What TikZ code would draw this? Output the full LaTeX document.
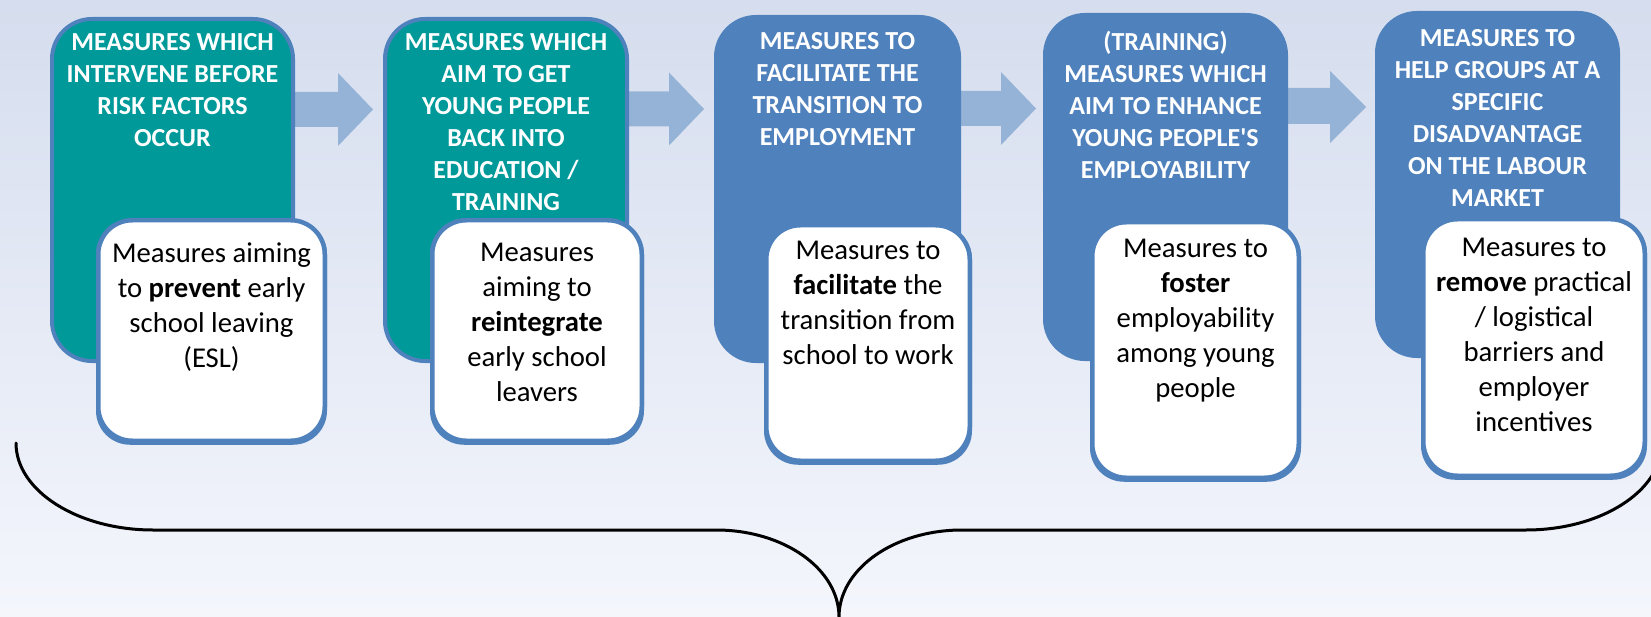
\documentclass[tikz,border=0pt]{standalone}
\usepackage{fontspec}
\setmainfont{Carlito}
\definecolor{bgtop}{RGB}{213,221,238}
\definecolor{bgbot}{RGB}{244,246,252}
\definecolor{tealfill}{RGB}{0,153,153}
\definecolor{bluefill}{RGB}{79,129,189}
\definecolor{arrowfill}{RGB}{149,179,215}
\tikzset{
  hbox/.style={draw=bluefill, line width=4pt, rounded corners=40pt, inner sep=0pt},
  wbox/.style={draw=bluefill, fill=white, line width=4.5pt, rounded corners=34pt, inner sep=0pt},
  htext/.style={anchor=north, align=center, text=white, inner sep=0pt,
    font=\fontsize{26}{32}\selectfont\bfseries, execute at begin node=\strut},
  wtext/.style={anchor=north, align=center, text=black, inner sep=0pt,
    font=\fontsize{28.7}{35}\selectfont, execute at begin node=\strut},
  blockarrow/.style={fill=arrowfill, draw=none},
  brace/.style={draw=black, line width=3pt, line cap=round}
}
\begin{document}
\begin{tikzpicture}[x=1pt,y=-1pt]
  \useasboundingbox (0,0) rectangle (1651,617);
  \shade[top color=bgtop, bottom color=bgbot] (0,0) rectangle (1651,617);

  % block arrows between the stages
  \fill[blockarrow] (285,92) -- (338,92) -- (338,73) -- (373,109.5) -- (338,146) -- (338,127) -- (285,127) -- cycle;
  \fill[blockarrow] (618,91.5) -- (669,91.5) -- (669,72.5) -- (704,109) -- (669,145.5) -- (669,126.5) -- (618,126.5) -- cycle;
  \fill[blockarrow] (950,91) -- (1001,91) -- (1001,72) -- (1036,108.5) -- (1001,145) -- (1001,126) -- (950,126) -- cycle;
  \fill[blockarrow] (1278,88) -- (1330,88) -- (1330,71) -- (1366,107) -- (1330,143) -- (1330,124) -- (1278,124) -- cycle;

  % stage boxes
  \node[hbox, fill=tealfill, minimum width=241pt, minimum height=342pt] (h1) at (172.5,190) {};
  \node[hbox, fill=tealfill, minimum width=242pt, minimum height=342pt] (h2) at (506,190) {};
  \node[hbox, fill=bluefill, minimum width=243pt, minimum height=344pt] (h3) at (837.5,189) {};
  \node[hbox, fill=bluefill, minimum width=241pt, minimum height=344pt] (h4) at (1165.5,187) {};
  \node[hbox, fill=bluefill, minimum width=241pt, minimum height=343pt] (h5) at (1497.5,184.5) {};

  % stage titles (north = first baseline minus 0.7 baselineskip)
  \node[htext] (t1) at (172.5,33.6) {MEASURES WHICH\\INTERVENE BEFORE\\RISK FACTORS\\OCCUR};
  \node[htext] (t2) at (506,33.6) {MEASURES WHICH\\AIM TO GET\\YOUNG PEOPLE\\BACK INTO\\EDUCATION /\\TRAINING};
  \node[htext] (t3) at (837.5,32.6) {MEASURES TO\\FACILITATE THE\\TRANSITION TO\\EMPLOYMENT};
  \node[htext] (t4) at (1165.5,31.1) {(TRAINING)\\MEASURES WHICH\\AIM TO ENHANCE\\YOUNG PEOPLE\textquotesingle S\\EMPLOYABILITY};
  \node[htext] (t5) at (1497.5,29.1) {MEASURES TO\\HELP GROUPS AT A\\SPECIFIC\\DISADVANTAGE\\ON THE LABOUR\\MARKET};

  % description boxes, each with a slight blue shadow along its lower edge
  \foreach \cx/\cy/\w/\h in {211.5/330.5/226.5/220.5, 537/330.5/209.5/220.5, 868/343/203.5/235.5,
                              1195.5/350/206.5/255.5, 1534/347.5/221.5/256.5}
    \fill[bluefill, rounded corners=34pt] (\cx-\w/2-2.25,\cy-\h/2) rectangle (\cx+\w/2+2.25,\cy+\h/2+4);
  \node[wbox, minimum width=226.5pt, minimum height=220.5pt] (w1) at (211.5,330.5) {};
  \node[wbox, minimum width=209.5pt, minimum height=220.5pt] (w2) at (537,330.5) {};
  \node[wbox, minimum width=203.5pt, minimum height=235.5pt] (w3) at (868,343) {};
  \node[wbox, minimum width=206.5pt, minimum height=255.5pt] (w4) at (1195.5,350) {};
  \node[wbox, minimum width=221.5pt, minimum height=256.5pt] (w5) at (1534,347.5) {};

  \node[wtext] (d1) at (211.5,242.5) {Measures aiming\\to \textbf{prevent} early\\school leaving\\(ESL)};
  \node[wtext] (d2) at (537,242.5) {Measures\\aiming to\\\textbf{reintegrate}\\early school\\leavers};
  \node[wtext] (d3) at (868,240.5) {Measures to\\\textbf{facilitate} the\\transition from\\school to work};
  \node[wtext] (d4) at (1195.5,238.5) {Measures to\\\textbf{foster}\\employability\\among young\\people};
  \node[wtext] (d5) at (1534,237.5) {Measures to\\\textbf{remove} practical\\/ logistical\\barriers and\\employer\\incentives};

  % brace gathering all five stages
  \coordinate (bl) at (16,443);
  \coordinate (bt) at (839,617);
  \coordinate (br) at (1662,443);
  \begin{scope}
    \clip (0,0) rectangle (1651,617);
    \draw[brace] (bl) .. controls (16,491) and (78,530) .. (153,530) -- (716,530)
      .. controls (784,530) and (839,569) .. (bt)
      .. controls (839,569) and (894,530) .. (962,530) -- (1526,530)
      .. controls (1601,530) and (1662,491) .. (br);
  \end{scope}
\end{tikzpicture}
\end{document}
